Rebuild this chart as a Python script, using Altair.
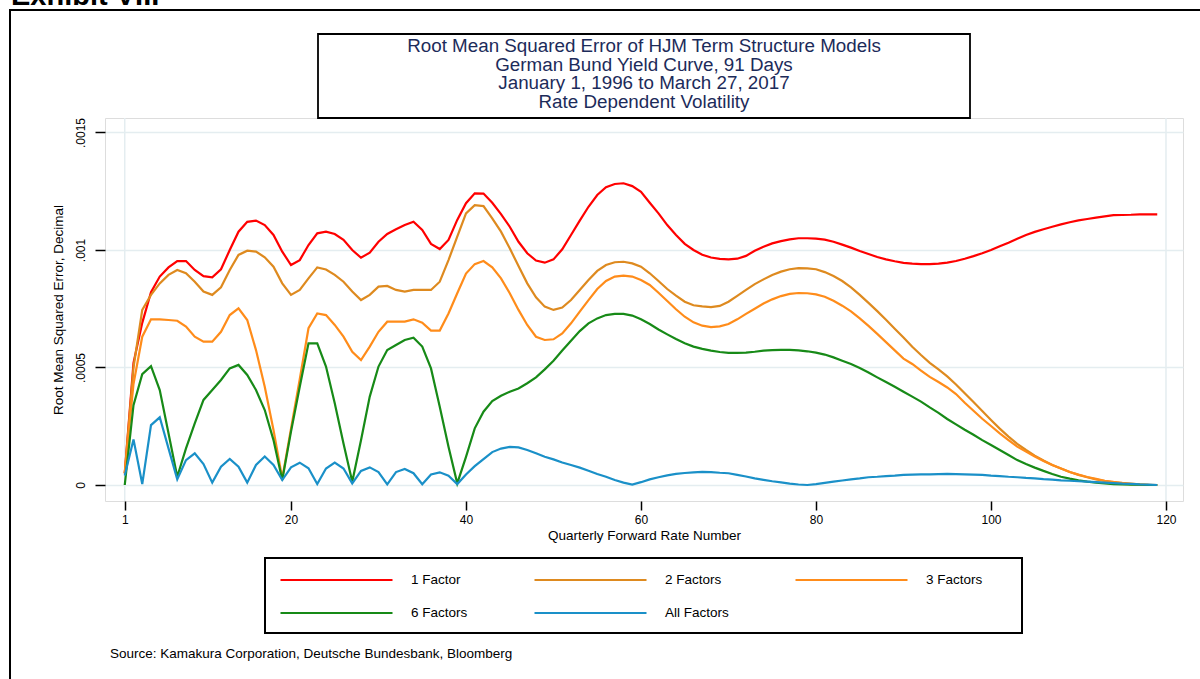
import altair as alt
import pandas as pd

# ---------------- data ----------------
x_vals = list(range(1, 120))  # quarterly forward rate number 1..119

series_names = ["1 Factor", "2 Factors", "3 Factors", "6 Factors", "All Factors"]
series_colors = ["#ff0000", "#de8a1f", "#ff8c1a", "#178a17", "#1a90c8"]

one_factor = [
    0.00005, 0.00052, 0.00069, 0.00082, 0.000887, 0.000926, 0.000953, 0.000953, 0.000915, 0.000889,
    0.000884, 0.000918, 0.001, 0.001078, 0.00112, 0.001125, 0.001106, 0.001064, 0.000993, 0.000936,
    0.000957, 0.001021, 0.001071, 0.001078, 0.001068, 0.001043, 0.001, 0.000967, 0.000989, 0.001035,
    0.001068, 0.001088, 0.001106, 0.00112, 0.001085, 0.001026, 0.001004, 0.001043, 0.001128, 0.001199,
    0.001241, 0.00124, 0.001201, 0.001153, 0.001099, 0.001035, 0.000986, 0.000955, 0.000946, 0.00096,
    0.001003, 0.001064, 0.001125, 0.001184, 0.001234, 0.001267, 0.001281, 0.001284, 0.001272, 0.001248,
    0.001201, 0.001156, 0.001106, 0.001064, 0.001026, 0.001, 0.00098, 0.000968, 0.000962, 0.00096,
    0.000963, 0.000975, 0.000997, 0.001014, 0.001028, 0.001038, 0.001045, 0.00105, 0.00105, 0.001048,
    0.001044, 0.001035, 0.001023, 0.00101, 0.000996, 0.000983, 0.00097, 0.00096, 0.000952, 0.000945,
    0.000942, 0.00094, 0.00094, 0.000942, 0.000946, 0.000953, 0.000963, 0.000974, 0.000986, 0.001,
    0.001016, 0.001031, 0.001048, 0.001064, 0.001077, 0.001088, 0.001099, 0.001109, 0.001118, 0.001126,
    0.001132, 0.001138, 0.001143, 0.001148, 0.001149, 0.00115, 0.001152, 0.001152, 0.001152,
]

two_factors = [
    0.00005, 0.0005, 0.000745, 0.000809, 0.000858, 0.000894, 0.000915, 0.000901, 0.000865, 0.000823,
    0.000809, 0.000841, 0.000915, 0.000979, 0.000997, 0.000993, 0.000969, 0.000929, 0.000858, 0.000809,
    0.00083, 0.000879, 0.000926, 0.000917, 0.000894, 0.000865, 0.000823, 0.000787, 0.000809, 0.000844,
    0.000847, 0.00083, 0.000823, 0.00083, 0.00083, 0.00083, 0.000865, 0.000957, 0.001057, 0.001156,
    0.001191, 0.001187, 0.001135, 0.001078, 0.001007, 0.000932, 0.000858, 0.000799, 0.000759, 0.000745,
    0.000755, 0.000787, 0.00083, 0.000872, 0.000911, 0.000936, 0.000948, 0.00095, 0.000943, 0.000929,
    0.000901, 0.000868, 0.000834, 0.000806, 0.00078, 0.000765, 0.00076, 0.000757, 0.000762, 0.00078,
    0.000805, 0.00083, 0.000855, 0.000875, 0.000894, 0.000908, 0.000918, 0.000923, 0.000922, 0.000918,
    0.000906, 0.000889, 0.000868, 0.000841, 0.000809, 0.000775, 0.00074, 0.000703, 0.000665, 0.000628,
    0.000588, 0.000553, 0.00052, 0.000492, 0.000462, 0.000428, 0.00039, 0.000353, 0.000315, 0.000277,
    0.00024, 0.000206, 0.000175, 0.000149, 0.000125, 0.000104, 0.000085, 0.00007, 0.000055, 0.000043,
    0.000033, 0.000024, 0.000017, 0.000011, 0.000007, 0.000004, 0.000002, 0.000001, 0.0,
]

three_factors = [
    0.00005, 0.00043, 0.000631, 0.000705, 0.000705, 0.000702, 0.000699, 0.000674, 0.000631, 0.00061,
    0.00061, 0.000652, 0.000723, 0.000752, 0.000702, 0.000574, 0.000418, 0.000234, 0.000028, 0.00024,
    0.00045, 0.000667, 0.00073, 0.000723, 0.000681, 0.000631, 0.000567, 0.000532, 0.000589, 0.000652,
    0.000695, 0.000695, 0.000695, 0.000705, 0.000691, 0.000657, 0.000657, 0.00073, 0.000816, 0.0009,
    0.00094, 0.000953, 0.000926, 0.000879, 0.000816, 0.000745, 0.000681, 0.000631, 0.000617, 0.00062,
    0.000645, 0.000688, 0.000738, 0.000787, 0.000834, 0.000868, 0.000887, 0.000891, 0.000887, 0.000872,
    0.000851, 0.000818, 0.000783, 0.000748, 0.000716, 0.000692, 0.000678, 0.000672, 0.000675, 0.000685,
    0.000705, 0.000728, 0.00075, 0.000772, 0.00079, 0.000804, 0.000813, 0.000817, 0.000816, 0.000811,
    0.000801, 0.000784, 0.000763, 0.000739, 0.000709, 0.000677, 0.000643, 0.000608, 0.000573, 0.000538,
    0.000515, 0.000487, 0.00046, 0.000438, 0.000415, 0.000387, 0.00035, 0.000316, 0.000282, 0.000251,
    0.00022, 0.000191, 0.000163, 0.000142, 0.000121, 0.000102, 0.000085, 0.00007, 0.000055, 0.000044,
    0.000034, 0.000026, 0.000018, 0.000013, 0.000009, 0.000006, 0.000003, 0.000001, 0.0,
]

six_factors = [
    0.0, 0.00034, 0.000472, 0.000506, 0.000404, 0.00022, 0.000035, 0.000156, 0.000262, 0.000362,
    0.000404, 0.000447, 0.000496, 0.000511, 0.000468, 0.000404, 0.000319, 0.000191, 0.000021, 0.000227,
    0.000418, 0.000603, 0.000603, 0.000504, 0.000348, 0.000177, 0.000014, 0.00019, 0.000376, 0.000504,
    0.000574, 0.000596, 0.000617, 0.000627, 0.000589, 0.000496, 0.000333, 0.000163, 0.000007, 0.00012,
    0.000241, 0.000312, 0.000357, 0.00038, 0.000397, 0.000411, 0.000433, 0.000458, 0.000492, 0.000529,
    0.000572, 0.000614, 0.000655, 0.000688, 0.000709, 0.000723, 0.000728, 0.000728, 0.000721, 0.000705,
    0.000685, 0.000662, 0.000641, 0.000621, 0.000603, 0.000589, 0.000579, 0.000572, 0.000566, 0.000562,
    0.000562, 0.000563, 0.000567, 0.000572, 0.000574, 0.000575, 0.000575, 0.000573, 0.000569, 0.000563,
    0.000555, 0.000543, 0.000529, 0.000515, 0.000498, 0.000479, 0.000458, 0.000438, 0.000418, 0.000397,
    0.000376, 0.000355, 0.00033, 0.000307, 0.000281, 0.000258, 0.000235, 0.000214, 0.000191, 0.00017,
    0.000149, 0.000128, 0.000106, 0.000089, 0.000074, 0.00006, 0.000047, 0.000035, 0.000027, 0.00002,
    0.000014, 0.00001, 0.000007, 0.000004, 0.000003, 0.000002, 0.000001, 0.0, 0.0,
]

all_factors = [
    0.00004, 0.000194, 0.000004, 0.000255, 0.000288, 0.000156, 0.000024, 0.000106, 0.000135, 0.000089,
    0.00001, 0.000078, 0.000111, 0.000078, 0.00001, 0.000085, 0.000121, 0.000085, 0.000021, 0.000075,
    0.000095, 0.000071, 0.000004, 0.00007, 0.000095, 0.00007, 0.000007, 0.00006, 0.000075, 0.000055,
    0.000003, 0.000055, 0.000068, 0.00005, 0.000003, 0.000045, 0.000054, 0.00004, 0.000004, 0.000045,
    0.00008, 0.00011, 0.00014, 0.000155, 0.000162, 0.00016, 0.000149, 0.000135, 0.00012, 0.000109,
    0.000096, 0.000085, 0.000074, 0.000061, 0.000047, 0.000035, 0.000021, 0.00001, 0.000002, 0.000012,
    0.000024, 0.000033, 0.000041, 0.000047, 0.000051, 0.000054, 0.000056, 0.000055, 0.000052, 0.00005,
    0.000043, 0.000036, 0.000028, 0.000022, 0.000016, 0.000011, 0.000006, 0.000002, 0.0, 0.000004,
    0.000009, 0.000014, 0.000019, 0.000024, 0.000028, 0.000033, 0.000035, 0.000038, 0.00004, 0.000043,
    0.000044, 0.000045, 0.000045, 0.000046, 0.000047, 0.000046, 0.000045, 0.000044, 0.000043, 0.00004,
    0.000038, 0.000035, 0.000033, 0.00003, 0.000028, 0.000025, 0.000023, 0.00002, 0.000018, 0.000016,
    0.000014, 0.000012, 0.00001, 0.000008, 0.000006, 0.000005, 0.000003, 0.000002, 0.0,
]

x_ticks = [1, 20, 40, 60, 80, 100, 120]
y_ticks = [0, 0.0005, 0.001, 0.0015]
x_grid_lines = [1, 120]

title_lines = [
    "Root Mean Squared Error of HJM Term Structure Models",
    "German Bund Yield Curve, 91 Days",
    "January 1, 1996 to March 27, 2017",
    "Rate Dependent Volatility",
]
exhibit_label = "Exhibit VIII"
source_text = "Source: Kamakura Corporation, Deutsche Bundesbank, Bloomberg"
x_title = "Quarterly Forward Rate Number"
y_title = "Root Mean Squared Error, Decimal"

# ---------------- build table ----------------
all_series = [one_factor, two_factors, three_factors, six_factors, all_factors]
rows = []
for name, vals in zip(series_names, all_series):
    for xv, yv in zip(x_vals, vals):
        rows.append({"x": xv, "rmse": yv, "series": name})
df = pd.DataFrame(rows)

FONT = "Liberation Sans"
GRID = "#e4edf0"
W, H = 1078, 383
X_DOMAIN = [-1.257, 121.943]
Y_DOMAIN = [-0.0000681, 0.0015617]

x_scale = alt.Scale(domain=X_DOMAIN, nice=False, zero=False)
y_scale = alt.Scale(domain=Y_DOMAIN, nice=False, zero=False)

vgrid = alt.Chart(pd.DataFrame({"x": x_grid_lines})).mark_rule(
    color=GRID, strokeWidth=1.5
).encode(x=alt.X("x:Q", scale=x_scale))

lines = alt.Chart(df).mark_line(strokeWidth=2.2).encode(
    x=alt.X(
        "x:Q",
        scale=x_scale,
        axis=alt.Axis(
            values=x_ticks, title=x_title, grid=False, domain=False,
            tickSize=9, tickColor="black", tickWidth=1.5,
            labelFontSize=12, labelPadding=4, labelColor="black", labelFont=FONT,
            titleFontSize=13.5, titleFontWeight="normal", titleColor="black",
            titlePadding=3, titleFont=FONT, labelFlush=False,
        ),
    ),
    y=alt.Y(
        "rmse:Q",
        scale=y_scale,
        axis=alt.Axis(
            values=y_ticks, title=y_title, grid=True, gridColor=GRID, gridWidth=1.5,
            domain=False, tickSize=10, tickColor="black", tickWidth=1.5,
            labelExpr="datum.value == 0 ? '0' : slice(format(datum.value, '.4~f'), 1)",
            labelAngle=270, labelAlign="center", labelBaseline="bottom",
            labelFontSize=12, labelPadding=8, labelColor="black", labelFont=FONT,
            labelFlush=False, labelOverlap=False,
            titleFontSize=13.5, titleFontWeight="normal", titleColor="black",
            titlePadding=9, titleFont=FONT,
        ),
    ),
    color=alt.Color(
        "series:N",
        scale=alt.Scale(domain=series_names, range=series_colors),
        legend=alt.Legend(
            title=None, orient="none", legendX=174, legendY=452,
            direction="horizontal", columns=3, gridAlign="each",
            symbolType="stroke", symbolSize=12544, symbolStrokeWidth=2.2,
            clipHeight=20, rowPadding=13, columnPadding=65, labelOffset=17,
            labelFontSize=13.5, labelFont=FONT, labelColor="black", padding=0,
        ),
    ),
    order=alt.value(0),
)

one = pd.DataFrame({"k": [0]})

def box(x1, y1, x2, y2, sw=2):
    return alt.Chart(one).mark_rect(fillOpacity=0, stroke="black", strokeWidth=sw).encode(
        x=alt.value(x1), y=alt.value(y1), x2=alt.value(x2), y2=alt.value(y2)
    )

frame = box(-95, -108, 1300, 700, 2)
title_box = box(213, -84, 865, 0, 1.8)
legend_box = box(160, 440, 917, 515, 2)

title_layers = []
for i, line in enumerate(title_lines):
    title_layers.append(
        alt.Chart(one).mark_text(
            fontSize=18.8, font=FONT, color="#1c2b5a", align="center", baseline="middle"
        ).encode(x=alt.value(539), y=alt.value(-72 + i * 18.7), text=alt.value(line))
    )

exhibit = alt.Chart(one).mark_text(
    fontSize=29, font=FONT, fontWeight="bold", color="black", align="left", baseline="alphabetic"
).encode(x=alt.value(-94), y=alt.value(-113), text=alt.value(exhibit_label))

source = alt.Chart(one).mark_text(
    fontSize=13.5, font=FONT, color="black", align="left", baseline="middle"
).encode(x=alt.value(5), y=alt.value(536), text=alt.value(source_text))

chart = alt.layer(
    vgrid, lines, frame, title_box, legend_box, exhibit, source, *title_layers
).properties(
    width=W, height=H,
    autosize=alt.AutoSizeParams(type="none"),
    padding={"left": 105, "top": 118, "right": 17, "bottom": 178},
    background="white",
).configure_view(
    stroke="black", strokeWidth=2
).configure(font=FONT)

chart.save("out.html", embed_options={"renderer": "svg", "actions": False})
